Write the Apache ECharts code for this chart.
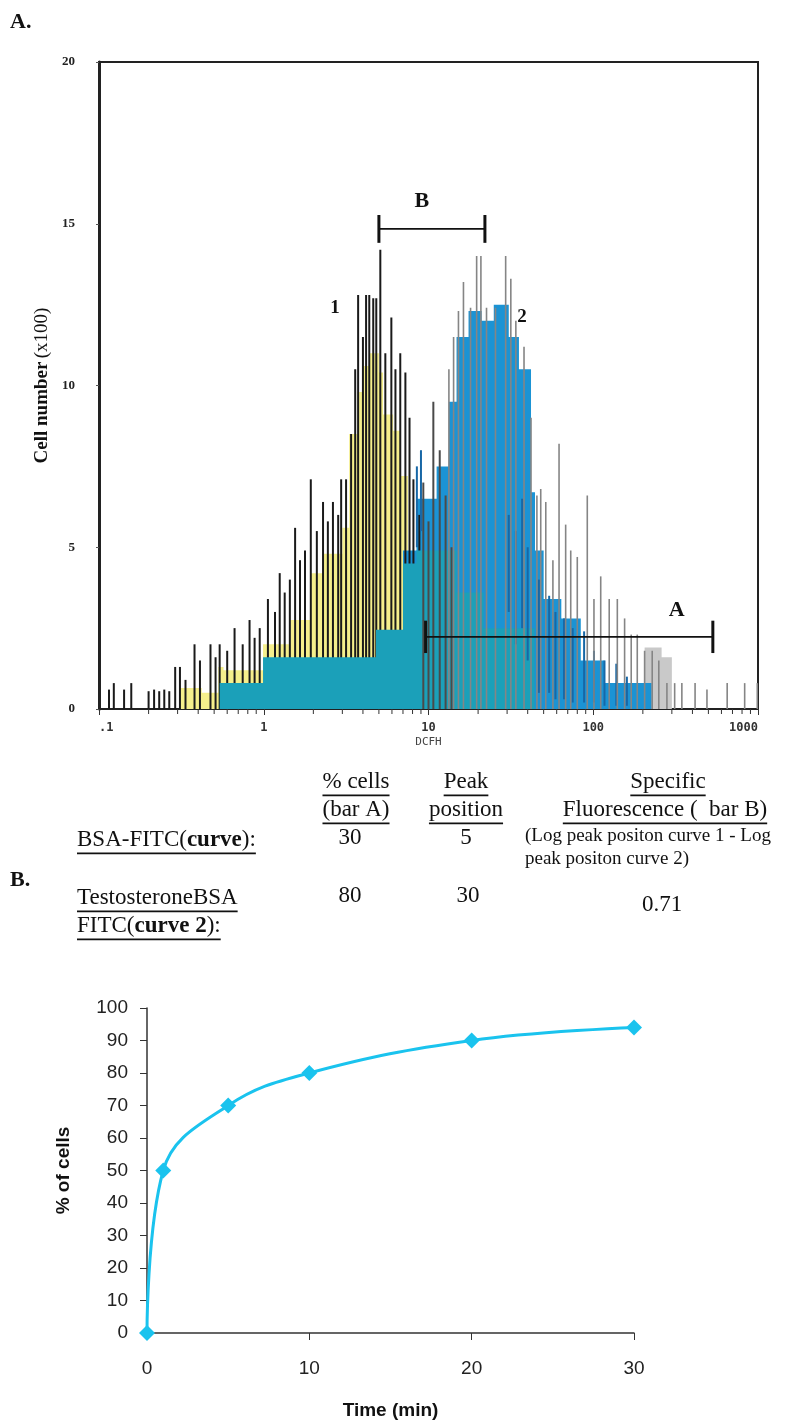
<!DOCTYPE html>
<html>
<head>
<meta charset="utf-8">
<script src="https://cdn.jsdelivr.net/npm/echarts@6/dist/echarts.min.js"></script>
<style>
  html, body { margin: 0; padding: 0; background: #fff; }
  #chart { width: 798px; height: 1422px; }
</style>
</head>
<body>
<div id="chart"></div>
<script>
// ---------- panel A: DCFH flow histogram (cell number x100) ----------
const dcfhTicks = [0.1, 1, 10, 100, 1000];
const dcfhTickLabels = ['.1', '1', '10', '100', '1000'];
const decadeStarts = [0.1, 1, 10, 100];
const minorMultipliers = [2, 3, 4, 5, 6, 7, 8, 9];

// [DCFH bin start, height]
const curve1Fill = [[0.31, 0.65], [0.42, 0.5], [0.53, 1.3], [0.57, 1.2], [0.99, 2.0], [1.45, 2.75], [1.93, 4.2],
  [2.29, 4.8], [3.0, 5.6], [3.3, 8.5], [3.7, 9.8], [4.0, 10.6], [4.4, 11.0], [5.0, 10.4], [5.3, 9.1],
  [6.1, 8.6], [6.8, 7.2], [7.5, 4.0], [8.1, 0]];
const curve2Fill = [[0.54, 0.8], [7.0, 4.9], [8.45, 6.5], [11.2, 7.5], [13.3, 9.5], [14.8, 11.5], [17.5, 12.3],
  [21, 12.0], [24.9, 12.5], [30.7, 11.5], [35.4, 10.5], [41.9, 6.7], [44.3, 4.9], [50, 3.4], [64, 2.8],
  [84, 1.5], [117, 0.8], [226, 0]];
const curve2Tail = [[205, 1.9], [260, 1.6], [300, 0]];
const overlapFill = [[0.54, 0.8], [0.99, 1.6], [4.8, 2.45], [7.0, 4.5], [8.45, 4.9], [14.8, 3.6], [21.6, 2.5], [44, 0]];

// [DCFH, spike top]
const curve1Spikes = [[0.115, 0.6], [0.123, 0.8], [0.142, 0.6], [0.157, 0.8], [0.2, 0.55], [0.216, 0.6], [0.232, 0.55],
  [0.249, 0.6], [0.267, 0.55], [0.29, 1.3], [0.31, 1.3], [0.335, 0.9], [0.38, 2.0], [0.41, 1.5], [0.475, 2.0],
  [0.51, 1.6], [0.54, 2.0], [0.6, 1.8], [0.665, 2.5], [0.745, 2.0], [0.82, 2.75], [0.88, 2.2], [0.945, 2.5],
  [1.06, 3.4], [1.17, 3.0], [1.25, 4.2], [1.34, 3.6], [1.44, 4.0], [1.55, 5.6], [1.66, 4.6], [1.78, 4.9],
  [1.93, 7.1], [2.1, 5.5], [2.29, 6.4], [2.45, 5.8], [2.63, 6.4], [2.83, 6.0], [2.95, 7.1], [3.16, 7.1],
  [3.39, 8.5], [3.59, 10.5], [3.74, 12.8], [4.0, 11.5], [4.18, 12.8], [4.37, 12.8], [4.62, 12.7], [4.82, 12.7],
  [5.1, 14.2], [5.47, 11.0], [5.95, 12.1], [6.3, 10.5], [6.74, 11.0], [7.24, 10.4], [7.67, 9.0], [8.1, 7.1], [8.8, 6.0]];
const curve1Grey = [[9.3, 7.0], [10, 5.8], [10.7, 9.5], [11.7, 8.0], [12.7, 6.6], [13.8, 5.0]];
const curve2Spikes = [[13.3, 10.5], [14.2, 11.5], [15.2, 12.3], [16.3, 13.2], [18, 12.4], [19.6, 14.0], [20.8, 14.0],
  [22.5, 12.4], [25.5, 12.4], [29.4, 14.0], [31.6, 13.3], [33.9, 12.0], [38, 11.2], [41.9, 9.0], [45.5, 6.6],
  [48, 6.8], [51.5, 6.4], [56.9, 4.6], [62, 8.2], [68, 5.7], [73, 4.9], [80, 4.7], [92, 6.6], [101, 3.4],
  [111, 4.1], [125, 3.4], [140, 3.4], [155, 2.8], [170, 2.3], [185, 2.3], [205, 1.8], [228, 1.8], [250, 1.5],
  [280, 0.8], [312, 0.8], [345, 0.8], [415, 0.8], [490, 0.6], [650, 0.8], [830, 0.8], [990, 0.8]];
// [DCFH, bottom, top]
const curve2Dark = [[8.5, 5.0, 7.5], [9.0, 5.5, 8.0], [30.7, 3.0, 6.0], [33.9, 2.0, 5.5], [37, 2.5, 6.5], [40, 1.5, 5.0],
  [46.8, 0.5, 4.0], [54, 0.5, 3.5], [59, 0.3, 3.0], [66.5, 0.3, 2.8], [75, 0.2, 2.5], [88, 0.2, 2.4],
  [101, 0.2, 1.8], [117, 0.1, 1.5], [138, 0.1, 1.4], [160, 0.1, 1.0]];

// bars A and B: [from, to, height, cap]
const bracketBars = [[5, 22, 14.84, 0.43], [9.6, 532, 2.23, 0.5]];
const annotationText = ['B', 'A', '1', '2'];
const annotationPos = [[9.1, 15.7], [321, 3.06], [2.71, 12.4], [36.9, 12.1]];

// ---------- panel B: time course ----------
const timeMin = [0, 1, 5, 10, 20, 30];
const pctCells = [0, 50, 70, 80, 90, 94];

const SERIF = '"Liberation Serif", "Times New Roman", serif';
const SANS = '"Liberation Sans", Arial, sans-serif';
const MONO = '"DejaVu Sans Mono", monospace';

function spikeRenderer(color, width) {
  return function (params, api) {
    const p0 = api.coord([api.value(0), 0]);
    const p1 = api.coord([api.value(0), api.value(1)]);
    return { type: 'line', shape: { x1: p0[0], y1: p0[1], x2: p1[0], y2: p1[1] },
      style: { stroke: color, lineWidth: width } };
  };
}

function stripeRenderer(color, width) {
  return function (params, api) {
    const p0 = api.coord([api.value(0), api.value(1)]);
    const p1 = api.coord([api.value(0), api.value(2)]);
    return { type: 'line', shape: { x1: p0[0], y1: p0[1], x2: p1[0], y2: p1[1] },
      style: { stroke: color, lineWidth: width } };
  };
}

function stepArea(name, data, color, z) {
  return {
    name, type: 'line', step: 'end', data, symbol: 'none', z,
    xAxisIndex: 0, yAxisIndex: 0,
    lineStyle: { width: 0 }, areaStyle: { color, opacity: 1 }, silent: true,
  };
}

const measureCtx = document.createElement('canvas').getContext('2d');
function textWidth(parts, size) {
  return parts.reduce((w, [s, bold]) => {
    measureCtx.font = (bold ? 'bold ' : '') + size + 'px ' + SERIF;
    return w + measureCtx.measureText(s).width;
  }, 0);
}

// table text (underlined where needed)
function tableText(x, y, parts, opts) {
  const size = opts.size || 23;
  const align = opts.align || 'left';
  const rich = {
    r: { font: size + 'px ' + SERIF, fill: '#111' },
    b: { font: 'bold ' + size + 'px ' + SERIF, fill: '#111' },
  };
  const text = parts.map(([s, bold]) => '{' + (bold ? 'b' : 'r') + '|' + s + '}').join('');
  const out = [{ type: 'text', x, y, style: { text, rich, align, verticalAlign: 'middle' } }];
  if (opts.underline) {
    const w = textWidth(parts, size);
    const x1 = align === 'center' ? x - w / 2 : x;
    out.push({ type: 'line', shape: { x1, y1: y + size * 0.58, x2: x1 + w, y2: y + size * 0.58 },
      style: { stroke: '#111', lineWidth: 1.6 } });
  }
  return out;
}

const graphics = [].concat(
  [{ type: 'text', x: 10, y: 22, style: { text: 'A.', font: 'bold 22px ' + SERIF, fill: '#111', verticalAlign: 'middle' } },
   { type: 'text', x: 10, y: 880, style: { text: 'B.', font: 'bold 22px ' + SERIF, fill: '#111', verticalAlign: 'middle' } }],
  tableText(356, 782, [['% cells', false]], { align: 'center', underline: true }),
  tableText(356, 810, [['(bar A)', false]], { align: 'center', underline: true }),
  tableText(466, 782, [['Peak', false]], { align: 'center', underline: true }),
  tableText(466, 810, [['position', false]], { align: 'center', underline: true }),
  tableText(668, 782, [['Specific', false]], { align: 'center', underline: true }),
  tableText(665, 810, [['Fluorescence (  bar B)', false]], { align: 'center', underline: true }),
  tableText(77, 840, [['BSA-FITC(', false], ['curve', true], ['):', false]], { underline: true }),
  tableText(350, 838, [['30', false]], { align: 'center' }),
  tableText(466, 838, [['5', false]], { align: 'center' }),
  tableText(525, 836, [['(Log peak positon curve 1 - Log', false]], { size: 19 }),
  tableText(525, 859, [['peak positon curve 2)', false]], { size: 19 }),
  tableText(77, 898, [['TestosteroneBSA', false]], { underline: true }),
  tableText(77, 926, [['FITC(', false], ['curve 2', true], ['):', false]], { underline: true }),
  tableText(350, 896, [['80', false]], { align: 'center' }),
  tableText(468, 896, [['30', false]], { align: 'center' }),
  tableText(662, 905, [['0.71', false]], { align: 'center' })
);

const minorTickValues = decadeStarts.flatMap(d => minorMultipliers.map(m => d * m));

const option = {
  animation: false,
  backgroundColor: '#fff',
  grid: [
    { left: 99, right: 40, top: 62, bottom: 713, show: true, borderColor: '#222', borderWidth: 2, outerBoundsMode: 'none' },
    { left: 147, right: 164, top: 1008, bottom: 89, outerBoundsMode: 'none' },
  ],
  xAxis: [
    {
      type: 'log', gridIndex: 0, min: 0.1, max: 1000, logBase: 10,
      name: 'DCFH', nameLocation: 'middle', nameGap: 28,
      nameTextStyle: { fontFamily: MONO, fontSize: 11, color: '#444' },
      axisLine: { lineStyle: { color: '#222', width: 1.5 } },
      axisTick: { show: true, length: 6, inside: false, lineStyle: { color: '#333' } },
      axisLabel: {
        fontFamily: MONO, fontWeight: 'bold', fontSize: 12, color: '#333', margin: 13,
        alignMinLabel: 'left', alignMaxLabel: 'right',
        formatter: v => {
          const i = dcfhTicks.findIndex(t => Math.abs(Math.log10(t) - Math.log10(v)) < 1e-6);
          return i >= 0 ? dcfhTickLabels[i] : '';
        },
      },
      splitLine: { show: false },
    },
    {
      type: 'value', gridIndex: 1, min: 0, max: 30, interval: 10,
      name: 'Time (min)', nameLocation: 'middle', nameGap: 68,
      nameTextStyle: { fontFamily: SANS, fontWeight: 'bold', fontSize: 19, color: '#111' },
      axisLine: { lineStyle: { color: '#333', width: 1.5 } },
      axisTick: { show: true, length: 7, lineStyle: { color: '#333' } },
      axisLabel: { fontFamily: SANS, fontSize: 19, color: '#222', margin: 26 },
      splitLine: { show: false },
    },
  ],
  yAxis: [
    {
      type: 'value', gridIndex: 0, min: 0, max: 20, interval: 5,
      name: '{b|Cell number} {r|(x100)}', nameLocation: 'middle', nameRotate: 90, nameGap: 41,
      nameTextStyle: {
        rich: {
          b: { fontFamily: SERIF, fontWeight: 'bold', fontSize: 19, color: '#111' },
          r: { fontFamily: SERIF, fontSize: 19, color: '#111' },
        },
      },
      axisLine: { show: true, lineStyle: { color: '#222', width: 3 } },
      axisTick: { show: true, length: 3, lineStyle: { color: '#555' } },
      axisLabel: { fontFamily: SERIF, fontWeight: 'bold', fontSize: 13, color: '#222', margin: 24 },
      splitLine: { show: false },
    },
    {
      type: 'value', gridIndex: 1, min: 0, max: 100, interval: 10,
      name: '% of cells', nameLocation: 'middle', nameRotate: 90, nameGap: 74,
      nameTextStyle: { fontFamily: SANS, fontWeight: 'bold', fontSize: 19, color: '#111' },
      axisLine: { show: true, lineStyle: { color: '#333', width: 1.5 } },
      axisTick: { show: true, length: 7, lineStyle: { color: '#333' } },
      axisLabel: { fontFamily: SANS, fontSize: 19, color: '#222', margin: 19 },
      splitLine: { show: false },
    },
  ],
  graphic: graphics,
  series: [
    stepArea('curve 2 tail', curve2Tail, '#c9c9c9', 1),
    stepArea('curve 1', curve1Fill, '#f5ef8c', 2),
    stepArea('curve 2', curve2Fill, '#1b93d4', 3),
    {
      name: 'curve 1 spikes', type: 'custom', xAxisIndex: 0, yAxisIndex: 0, z: 4, silent: true,
      renderItem: spikeRenderer('#1a1a1a', 2), data: curve1Spikes,
    },
    stepArea('overlap', overlapFill, '#1ba0b9', 5),
    {
      name: 'curve 2 dark', type: 'custom', xAxisIndex: 0, yAxisIndex: 0, z: 6, silent: true,
      renderItem: stripeRenderer('#1767a6', 2), data: curve2Dark,
    },
    {
      name: 'curve 1 grey', type: 'custom', xAxisIndex: 0, yAxisIndex: 0, z: 7, silent: true,
      renderItem: spikeRenderer('#4a4a4a', 2), data: curve1Grey,
    },
    {
      name: 'curve 2 spikes', type: 'custom', xAxisIndex: 0, yAxisIndex: 0, z: 7, silent: true,
      renderItem: spikeRenderer('#858585', 1.6), data: curve2Spikes,
    },
    {
      name: 'minor ticks', type: 'custom', xAxisIndex: 0, yAxisIndex: 0, z: 8, silent: true, clip: false,
      renderItem: (params, api) => {
        const p = api.coord([api.value(0), 0]);
        return { type: 'line', shape: { x1: p[0], y1: p[1], x2: p[0], y2: p[1] + 5 },
          style: { stroke: '#333', lineWidth: 1 } };
      },
      data: minorTickValues.map(v => [v, 0]),
    },
    {
      name: 'bars', type: 'custom', xAxisIndex: 0, yAxisIndex: 0, z: 9, silent: true, clip: false,
      renderItem: (params, api) => {
        const y = api.value(2), cap = api.value(3);
        const a = api.coord([api.value(0), y]);
        const b = api.coord([api.value(1), y]);
        const a0 = api.coord([api.value(0), y - cap]), a1 = api.coord([api.value(0), y + cap]);
        const b0 = api.coord([api.value(1), y - cap]), b1 = api.coord([api.value(1), y + cap]);
        return {
          type: 'group',
          children: [
            { type: 'line', shape: { x1: a[0], y1: a[1], x2: b[0], y2: b[1] }, style: { stroke: '#111', lineWidth: 1.8 } },
            { type: 'line', shape: { x1: a0[0], y1: a0[1], x2: a1[0], y2: a1[1] }, style: { stroke: '#111', lineWidth: 3 } },
            { type: 'line', shape: { x1: b0[0], y1: b0[1], x2: b1[0], y2: b1[1] }, style: { stroke: '#111', lineWidth: 3 } },
          ],
        };
      },
      data: bracketBars,
    },
    {
      name: 'labels', type: 'custom', xAxisIndex: 0, yAxisIndex: 0, z: 10, silent: true, clip: false,
      renderItem: (params, api) => {
        const p = api.coord([api.value(0), api.value(1)]);
        const t = annotationText[params.dataIndex];
        const size = (t === 'A' || t === 'B') ? 22 : 19;
        return { type: 'text', x: p[0], y: p[1],
          style: { text: t, font: 'bold ' + size + 'px ' + SERIF, fill: '#111', align: 'center', verticalAlign: 'middle' } };
      },
      data: annotationPos,
    },
    {
      name: '% of cells', type: 'line', xAxisIndex: 1, yAxisIndex: 1, z: 5,
      data: timeMin.map((t, i) => [t, pctCells[i]]),
      smooth: 0.4,
      symbol: 'diamond', symbolSize: 16,
      lineStyle: { color: '#1ac3ee', width: 3 },
      itemStyle: { color: '#1ac3ee' },
    },
  ],
};

const chart = echarts.init(document.getElementById('chart'), null, { renderer: 'canvas' });
chart.setOption(option);
</script>
</body>
</html>
